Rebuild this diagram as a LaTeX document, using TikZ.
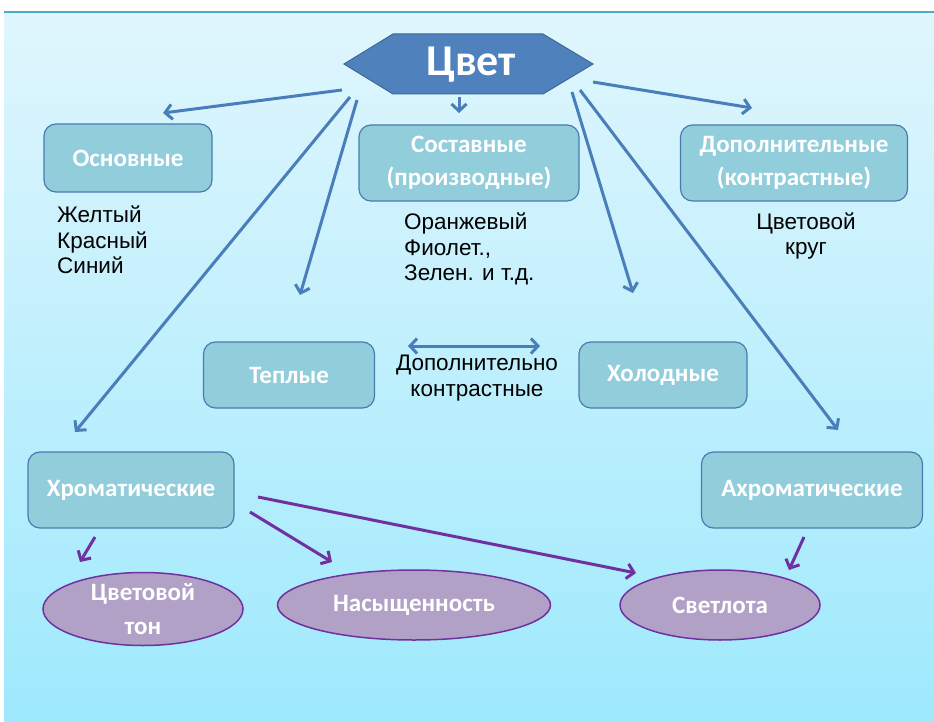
\documentclass[tikz,border=0pt]{standalone}
\usepackage{fontspec}
\setmainfont{Carlito}
\newfontfamily\notefont{Liberation Sans}
\usetikzlibrary{arrows.meta,shapes.geometric}
\definecolor{bgtop}{HTML}{E0F6FD}
\definecolor{bgbot}{HTML}{9EE9FD}
\definecolor{topline}{HTML}{4BACC6}
\definecolor{hexblue}{HTML}{4F81BD}
\definecolor{boxfill}{HTML}{92CDDC}
\definecolor{boxline}{HTML}{4A7BAF}
\definecolor{ovalfill}{HTML}{B2A1C7}
\definecolor{ovalline}{HTML}{7030A0}
\definecolor{arrblue}{HTML}{4A7EBB}
\tikzset{
  barb/.tip={Straight Barb[length=7pt,width=15pt]},
  catbox/.style={draw=boxline, line width=1.2pt, fill=boxfill, rounded corners=12pt,
    text=white, font=\fontsize{25}{33}\selectfont\bfseries, align=center, inner sep=0pt},
  propoval/.style={ellipse, draw=ovalline, line width=1.5pt, fill=ovalfill, text=white,
    font=\fontsize{25}{34}\selectfont\bfseries, align=center, inner sep=0pt},
  note/.style={font=\notefont\fontsize{22.5}{25.5}\selectfont, inner sep=0pt},
  barrow/.style={draw=arrblue, line width=3pt, -barb},
  parrow/.style={draw=ovalline, line width=3pt, -barb}
}
\begin{document}
\begin{tikzpicture}[x=1pt,y=-1pt]
  \useasboundingbox (0,0) rectangle (934,722);
  \shade[top color=bgtop, bottom color=bgbot] (4,12) rectangle (934,722);
  \draw[topline, line width=2pt] (4,12) -- (934,12);

  % main hexagon
  \filldraw[fill=hexblue, draw=hexblue!80!black, line width=1pt]
    (344,64) -- (393,34) -- (543,34) -- (593,64) -- (543,94) -- (393,94) -- cycle;
  \node[anchor=base, text=white, font=\fontsize{44}{44}\selectfont\bfseries] (cvet) at (471,76) {Цвет};

  % boxes
  \node[catbox, minimum width=168pt, minimum height=68pt] (osn) at (128,158) {Основные};
  \node[catbox, minimum width=220pt, minimum height=76pt] (sost) at (469,163) {Составные\\(производные)};
  \node[catbox, minimum width=227pt, minimum height=76pt] (dop) at (794,163) {Дополнительные\\(контрастные)};
  \node[catbox, minimum width=171pt, minimum height=66pt] (tep) at (289,375) {Теплые};
  \node[catbox, minimum width=168pt, minimum height=66pt] (hol) at (663,375) {Холодные};
  \node[catbox, minimum width=206pt, minimum height=76pt] (hrom) at (131,490) {Хроматические};
  \node[catbox, minimum width=221pt, minimum height=76pt] (ahrom) at (812,490) {Ахроматические};

  % ovals
  \node[propoval, minimum width=200pt, minimum height=73pt] (ton) at (143,609) {Цветовой\\тон};
  \node[propoval, minimum width=273pt, minimum height=70pt] (nas) at (414,605) {Насыщенность};
  \node[propoval, minimum width=200pt, minimum height=70pt] (svet) at (720,605) {Светлота};

  % notes
  \node[note, anchor=north west, align=left] (osnnote) at (57,206) {Желтый\\Красный\\Синий};
  \node[note, anchor=north west, align=left] (sostnote) at (404,213) {Оранжевый\\Фиолет.,\\Зелен. и т.д.};
  \node[note, align=center] (dopnote) at (806,236) {Цветовой\\круг};
  \node[note, align=center] (kontr) at (477,378) {Дополнительно\\контрастные};

  % arrow ends
  \coordinate (c1) at (342,90);  \coordinate (t1) at (163,113);
  \coordinate (c2) at (459,97);  \coordinate (t2) at (459,113);
  \coordinate (c3) at (593,82);  \coordinate (t3) at (752,108);
  \coordinate (c4) at (350,97);  \coordinate (t4) at (75,432);
  \coordinate (c5) at (357,100); \coordinate (t5) at (300,295);
  \coordinate (c6) at (572,92);  \coordinate (t6) at (633,293);
  \coordinate (c7) at (580,90);  \coordinate (t7) at (838,430);
  \coordinate (d1) at (408,346); \coordinate (d2) at (540,346);
  \coordinate (p1) at (95,537);  \coordinate (q1) at (80,562);
  \coordinate (p2) at (250,512); \coordinate (q2) at (332,562);
  \coordinate (p3) at (258,497); \coordinate (q3) at (636,573);
  \coordinate (p4) at (804,537); \coordinate (q4) at (789,570);

  \draw[barrow] (c1) -- (t1);
  \draw[barrow] (c2) -- (t2);
  \draw[barrow] (c3) -- (t3);
  \draw[barrow] (c4) -- (t4);
  \draw[barrow] (c5) -- (t5);
  \draw[barrow] (c6) -- (t6);
  \draw[barrow] (c7) -- (t7);
  \draw[barrow, barb-barb] (d1) -- (d2);

  \draw[parrow] (p1) -- (q1);
  \draw[parrow] (p2) -- (q2);
  \draw[parrow] (p3) -- (q3);
  \draw[parrow] (p4) -- (q4);
\end{tikzpicture}
\end{document}
